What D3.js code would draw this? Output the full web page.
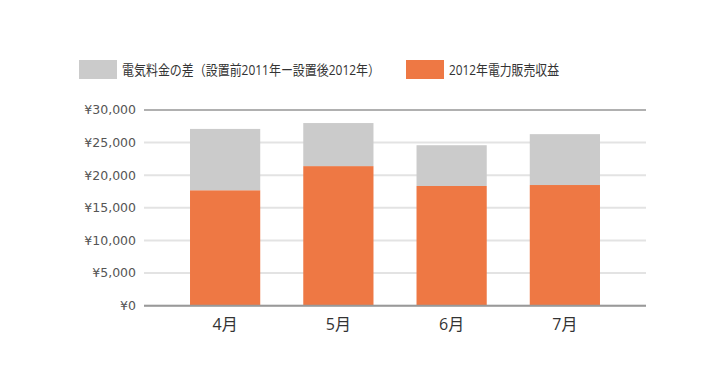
<!DOCTYPE html>
<html>
<head>
<meta charset="utf-8">
<script src="https://cdn.jsdelivr.net/npm/d3@7"></script>
<style>
  body { margin: 0; background: #fff; }
  svg { display: block; font-family: "Open Sans", "Noto Sans CJK JP", sans-serif; }
</style>
</head>
<body>
<svg id="chart"></svg>
<script>
const months = ["4月", "5月", "6月", "7月"];
const revenue = [17700, 21400, 18350, 18500];
const diff = [9400, 6600, 6250, 7800];
const yTicks = [0, 5000, 10000, 15000, 20000, 25000, 30000];
const seriesNames = ["電気料金の差（設置前2011年ー設置後2012年）", "2012年電力販売収益"];

const width = 726;
const height = 390;
const colors = { diff: "#cbcbcb", revenue: "#ee7844" };

const svg = d3.select("#chart")
    .attr("width", width)
    .attr("height", height);

const x = d3.scaleBand()
    .domain(months)
    .range([168.5, 621.5])
    .paddingInner(0.38)
    .paddingOuter(0.19);

const y = d3.scaleLinear()
    .domain([0, 30000])
    .range([305.7, 110]);

// gridlines
svg.append("g")
    .selectAll("line")
    .data(yTicks)
    .join("line")
    .attr("x1", 144)
    .attr("x2", 646)
    .attr("y1", d => y(d))
    .attr("y2", d => y(d))
    .attr("stroke", d => d === 30000 ? "#b0b0b0" : "#e3e3e3")
    .attr("stroke-width", 2);

// y labels
svg.append("g")
    .selectAll("text")
    .data(yTicks)
    .join("text")
    .attr("x", 136)
    .attr("y", d => y(d))
    .attr("dy", "0.35em")
    .attr("text-anchor", "end")
    .attr("font-family", "'DejaVu Sans', sans-serif")
    .attr("font-size", 12.5)
    .attr("fill", "#555")
    .text(d => "¥" + d3.format(",")(d));

// stacked bars
const rows = months.map((m, i) => ({ month: m, revenue: revenue[i], diff: diff[i] }));
const stack = d3.stack().keys(["revenue", "diff"])(rows);

svg.append("g")
    .selectAll("g")
    .data(stack)
    .join("g")
    .attr("fill", s => colors[s.key])
    .selectAll("rect")
    .data(s => s)
    .join("rect")
    .attr("x", d => x(d.data.month))
    .attr("width", x.bandwidth())
    .attr("y", d => y(d[1]))
    .attr("height", d => y(d[0]) - y(d[1]));

// baseline over bars
svg.append("line")
    .attr("x1", 144)
    .attr("x2", 646)
    .attr("y1", y(0))
    .attr("y2", y(0))
    .attr("stroke", "#999")
    .attr("stroke-width", 2);

// x labels
svg.append("g")
    .selectAll("text")
    .data(months)
    .join("text")
    .attr("x", d => x(d) + x.bandwidth() / 2)
    .attr("y", 324)
    .attr("dy", "0.35em")
    .attr("text-anchor", "middle")
    .attr("font-size", 16)
    .attr("fill", "#333")
    .text(d => d);

// legend
const legend = [
    { name: seriesNames[0], color: colors.diff, x: 79, w: 258 },
    { name: seriesNames[1], color: colors.revenue, x: 406, w: 110 }
];
const lg = svg.append("g")
    .selectAll("g")
    .data(legend)
    .join("g")
    .attr("transform", d => `translate(${d.x},60)`);

lg.append("rect")
    .attr("width", 38)
    .attr("height", 19)
    .attr("fill", d => d.color);

lg.append("text")
    .attr("x", 43)
    .attr("y", 10)
    .attr("dy", "0.35em")
    .attr("font-size", 14)
    .attr("fill", "#333")
    .attr("textLength", d => d.w)
    .attr("lengthAdjust", "spacingAndGlyphs")
    .text(d => d.name);
</script>
</body>
</html>
